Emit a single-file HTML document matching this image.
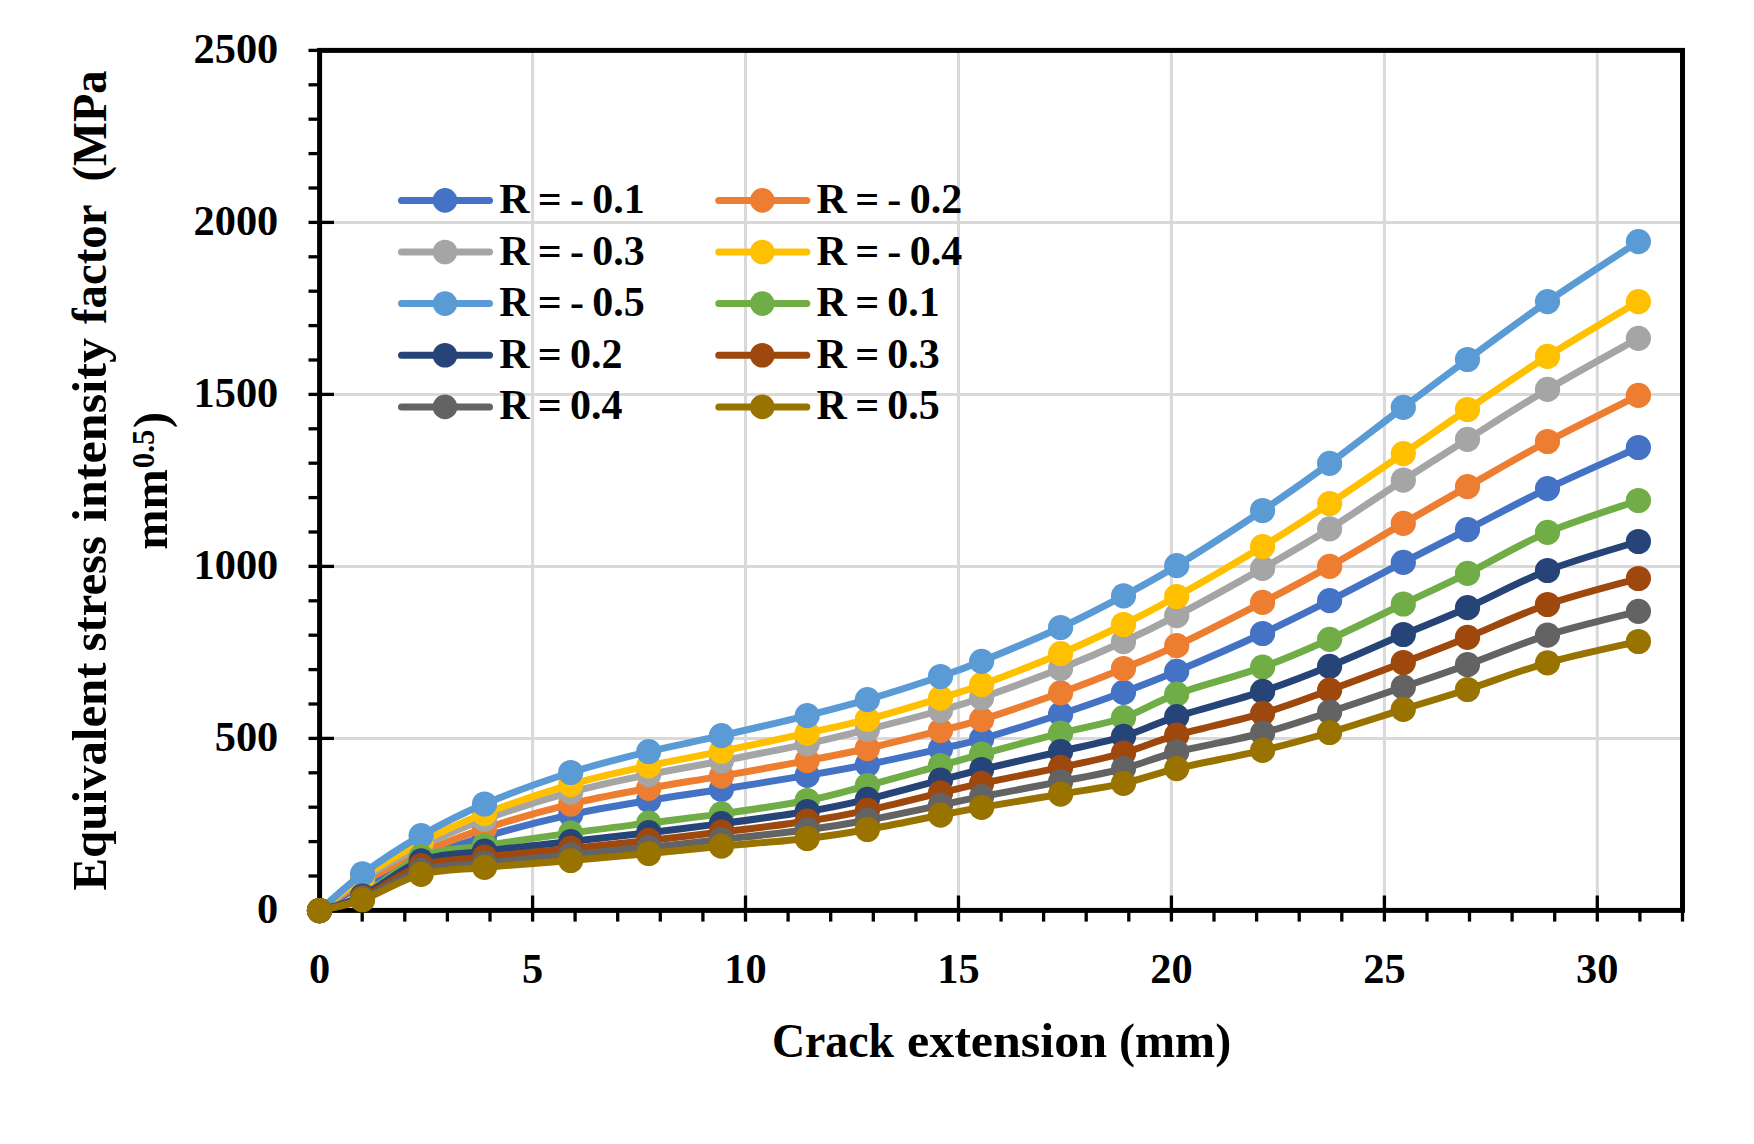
<!DOCTYPE html>
<html lang="en"><head><meta charset="utf-8"><title>Equivalent stress intensity factor vs crack extension</title>
<style>html,body{margin:0;padding:0;background:#fff}body{width:1754px;height:1144px;overflow:hidden}svg{display:block}text{font-family:"Liberation Serif","DejaVu Serif",serif;font-weight:bold;fill:#000}</style></head><body>
<svg width="1754" height="1144" viewBox="0 0 1754 1144">
<rect width="1754" height="1144" fill="#fff"/>
<g stroke="#D9D9D9" stroke-width="3.0" fill="none">
<line x1="319.6" y1="738.4" x2="1682.5" y2="738.4"/>
<line x1="319.6" y1="566.4" x2="1682.5" y2="566.4"/>
<line x1="319.6" y1="394.4" x2="1682.5" y2="394.4"/>
<line x1="319.6" y1="222.4" x2="1682.5" y2="222.4"/>
<line x1="532.6" y1="910.4" x2="532.6" y2="50.4"/>
<line x1="745.5" y1="910.4" x2="745.5" y2="50.4"/>
<line x1="958.5" y1="910.4" x2="958.5" y2="50.4"/>
<line x1="1171.4" y1="910.4" x2="1171.4" y2="50.4"/>
<line x1="1384.4" y1="910.4" x2="1384.4" y2="50.4"/>
<line x1="1597.3" y1="910.4" x2="1597.3" y2="50.4"/>
</g>
<g stroke="#000" stroke-width="3.3" fill="none">
<line x1="308.5" y1="910.4" x2="334" y2="910.4"/>
<line x1="308.5" y1="876.0" x2="319.6" y2="876.0"/>
<line x1="308.5" y1="841.6" x2="319.6" y2="841.6"/>
<line x1="308.5" y1="807.2" x2="319.6" y2="807.2"/>
<line x1="308.5" y1="772.8" x2="319.6" y2="772.8"/>
<line x1="308.5" y1="738.4" x2="334" y2="738.4"/>
<line x1="308.5" y1="704.0" x2="319.6" y2="704.0"/>
<line x1="308.5" y1="669.6" x2="319.6" y2="669.6"/>
<line x1="308.5" y1="635.2" x2="319.6" y2="635.2"/>
<line x1="308.5" y1="600.8" x2="319.6" y2="600.8"/>
<line x1="308.5" y1="566.4" x2="334" y2="566.4"/>
<line x1="308.5" y1="532.0" x2="319.6" y2="532.0"/>
<line x1="308.5" y1="497.6" x2="319.6" y2="497.6"/>
<line x1="308.5" y1="463.2" x2="319.6" y2="463.2"/>
<line x1="308.5" y1="428.8" x2="319.6" y2="428.8"/>
<line x1="308.5" y1="394.4" x2="334" y2="394.4"/>
<line x1="308.5" y1="360.0" x2="319.6" y2="360.0"/>
<line x1="308.5" y1="325.6" x2="319.6" y2="325.6"/>
<line x1="308.5" y1="291.2" x2="319.6" y2="291.2"/>
<line x1="308.5" y1="256.8" x2="319.6" y2="256.8"/>
<line x1="308.5" y1="222.4" x2="334" y2="222.4"/>
<line x1="308.5" y1="188.0" x2="319.6" y2="188.0"/>
<line x1="308.5" y1="153.6" x2="319.6" y2="153.6"/>
<line x1="308.5" y1="119.2" x2="319.6" y2="119.2"/>
<line x1="308.5" y1="84.8" x2="319.6" y2="84.8"/>
<line x1="308.5" y1="50.4" x2="334" y2="50.4"/>
<line x1="319.6" y1="895.5" x2="319.6" y2="921.6"/>
<line x1="362.2" y1="910.4" x2="362.2" y2="921.6"/>
<line x1="404.8" y1="910.4" x2="404.8" y2="921.6"/>
<line x1="447.4" y1="910.4" x2="447.4" y2="921.6"/>
<line x1="490.0" y1="910.4" x2="490.0" y2="921.6"/>
<line x1="532.6" y1="895.5" x2="532.6" y2="921.6"/>
<line x1="575.1" y1="910.4" x2="575.1" y2="921.6"/>
<line x1="617.7" y1="910.4" x2="617.7" y2="921.6"/>
<line x1="660.3" y1="910.4" x2="660.3" y2="921.6"/>
<line x1="702.9" y1="910.4" x2="702.9" y2="921.6"/>
<line x1="745.5" y1="895.5" x2="745.5" y2="921.6"/>
<line x1="788.1" y1="910.4" x2="788.1" y2="921.6"/>
<line x1="830.7" y1="910.4" x2="830.7" y2="921.6"/>
<line x1="873.3" y1="910.4" x2="873.3" y2="921.6"/>
<line x1="915.9" y1="910.4" x2="915.9" y2="921.6"/>
<line x1="958.5" y1="895.5" x2="958.5" y2="921.6"/>
<line x1="1001.1" y1="910.4" x2="1001.1" y2="921.6"/>
<line x1="1043.6" y1="910.4" x2="1043.6" y2="921.6"/>
<line x1="1086.2" y1="910.4" x2="1086.2" y2="921.6"/>
<line x1="1128.8" y1="910.4" x2="1128.8" y2="921.6"/>
<line x1="1171.4" y1="895.5" x2="1171.4" y2="921.6"/>
<line x1="1214.0" y1="910.4" x2="1214.0" y2="921.6"/>
<line x1="1256.6" y1="910.4" x2="1256.6" y2="921.6"/>
<line x1="1299.2" y1="910.4" x2="1299.2" y2="921.6"/>
<line x1="1341.8" y1="910.4" x2="1341.8" y2="921.6"/>
<line x1="1384.4" y1="895.5" x2="1384.4" y2="921.6"/>
<line x1="1427.0" y1="910.4" x2="1427.0" y2="921.6"/>
<line x1="1469.5" y1="910.4" x2="1469.5" y2="921.6"/>
<line x1="1512.1" y1="910.4" x2="1512.1" y2="921.6"/>
<line x1="1554.7" y1="910.4" x2="1554.7" y2="921.6"/>
<line x1="1597.3" y1="895.5" x2="1597.3" y2="921.6"/>
<line x1="1639.9" y1="910.4" x2="1639.9" y2="921.6"/>
<line x1="1682.5" y1="910.4" x2="1682.5" y2="921.6"/>
</g>
<rect x="319.6" y="50.4" width="1362.9" height="860.0" fill="none" stroke="#000" stroke-width="5.0"/>
<g fill="#4472C4" stroke="none"><path d="M319.5 910.6C326.7 906.4 345.6 893.8 362.5 885.1C379.4 876.4 400.8 866.7 421.1 858.6C441.4 850.5 459.6 844.0 484.5 836.7C509.4 829.4 543.3 820.7 570.7 814.6C598.1 808.5 623.6 804.6 648.7 800.4C673.8 796.2 695.0 793.5 721.4 789.3C747.8 785.1 782.9 779.5 807.2 775.4C831.5 771.3 845.2 768.9 867.4 764.5C889.6 760.1 921.5 753.0 940.5 748.8C959.5 744.5 961.6 744.8 981.6 739.0C1001.6 733.2 1036.9 722.0 1060.6 714.2C1084.2 706.4 1104.2 699.4 1123.5 692.3C1142.8 685.1 1153.5 681.1 1176.7 671.3C1199.9 661.5 1237.1 645.3 1262.6 633.5C1288.1 621.7 1306.1 612.5 1329.6 600.6C1353.0 588.8 1380.3 574.2 1403.3 562.4C1426.3 550.6 1443.5 541.9 1467.5 529.6C1491.5 517.3 1519.0 502.3 1547.5 488.6C1576.0 474.9 1623.2 454.4 1638.4 447.5" fill="none" stroke="#4472C4" stroke-width="7.0" stroke-linejoin="round" stroke-linecap="round"/>
<circle cx="319.5" cy="910.6" r="12.6"/>
<circle cx="362.5" cy="885.1" r="12.6"/>
<circle cx="421.1" cy="858.6" r="12.6"/>
<circle cx="484.5" cy="836.7" r="12.6"/>
<circle cx="570.7" cy="814.6" r="12.6"/>
<circle cx="648.7" cy="800.4" r="12.6"/>
<circle cx="721.4" cy="789.3" r="12.6"/>
<circle cx="807.2" cy="775.4" r="12.6"/>
<circle cx="867.4" cy="764.5" r="12.6"/>
<circle cx="940.5" cy="748.8" r="12.6"/>
<circle cx="981.6" cy="739.0" r="12.6"/>
<circle cx="1060.6" cy="714.2" r="12.6"/>
<circle cx="1123.5" cy="692.3" r="12.6"/>
<circle cx="1176.7" cy="671.3" r="12.6"/>
<circle cx="1262.6" cy="633.5" r="12.6"/>
<circle cx="1329.6" cy="600.6" r="12.6"/>
<circle cx="1403.3" cy="562.4" r="12.6"/>
<circle cx="1467.5" cy="529.6" r="12.6"/>
<circle cx="1547.5" cy="488.6" r="12.6"/>
<circle cx="1638.4" cy="447.5" r="12.6"/>
</g>
<g fill="#ED7D31" stroke="none"><path d="M319.5 910.6C326.7 905.9 345.6 891.9 362.5 882.3C379.4 872.7 400.8 861.8 421.1 852.9C441.4 844.0 459.6 836.7 484.5 828.6C509.4 820.5 543.3 810.8 570.7 804.1C598.1 797.4 623.6 793.0 648.7 788.3C673.8 783.6 695.0 780.7 721.4 776.1C747.8 771.5 782.9 765.2 807.2 760.6C831.5 756.0 845.2 753.5 867.4 748.5C889.6 743.5 921.5 735.4 940.5 730.6C959.5 725.8 961.6 726.0 981.6 719.7C1001.6 713.4 1036.9 701.3 1060.6 692.8C1084.2 684.3 1104.2 676.4 1123.5 668.5C1142.8 660.6 1153.5 656.7 1176.7 645.7C1199.9 634.7 1237.1 615.6 1262.6 602.4C1288.1 589.2 1306.1 579.6 1329.6 566.4C1353.0 553.2 1380.3 536.7 1403.3 523.4C1426.3 510.1 1443.5 500.2 1467.5 486.6C1491.5 473.0 1519.0 456.7 1547.5 441.5C1576.0 426.3 1623.2 403.1 1638.4 395.4" fill="none" stroke="#ED7D31" stroke-width="7.0" stroke-linejoin="round" stroke-linecap="round"/>
<circle cx="319.5" cy="910.6" r="12.6"/>
<circle cx="362.5" cy="882.3" r="12.6"/>
<circle cx="421.1" cy="852.9" r="12.6"/>
<circle cx="484.5" cy="828.6" r="12.6"/>
<circle cx="570.7" cy="804.1" r="12.6"/>
<circle cx="648.7" cy="788.3" r="12.6"/>
<circle cx="721.4" cy="776.1" r="12.6"/>
<circle cx="807.2" cy="760.6" r="12.6"/>
<circle cx="867.4" cy="748.5" r="12.6"/>
<circle cx="940.5" cy="730.6" r="12.6"/>
<circle cx="981.6" cy="719.7" r="12.6"/>
<circle cx="1060.6" cy="692.8" r="12.6"/>
<circle cx="1123.5" cy="668.5" r="12.6"/>
<circle cx="1176.7" cy="645.7" r="12.6"/>
<circle cx="1262.6" cy="602.4" r="12.6"/>
<circle cx="1329.6" cy="566.4" r="12.6"/>
<circle cx="1403.3" cy="523.4" r="12.6"/>
<circle cx="1467.5" cy="486.6" r="12.6"/>
<circle cx="1547.5" cy="441.5" r="12.6"/>
<circle cx="1638.4" cy="395.4" r="12.6"/>
</g>
<g fill="#A5A5A5" stroke="none"><path d="M319.5 910.6C326.7 905.4 345.6 889.9 362.5 879.2C379.4 868.5 400.8 856.4 421.1 846.4C441.4 836.4 459.6 828.4 484.5 819.4C509.4 810.4 543.3 799.7 570.7 792.2C598.1 784.7 623.6 779.8 648.7 774.6C673.8 769.4 695.0 766.1 721.4 761.0C747.8 755.9 782.9 749.0 807.2 743.8C831.5 738.5 845.2 735.0 867.4 729.5C889.6 724.0 921.5 715.8 940.5 710.5C959.5 705.2 961.6 704.8 981.6 697.8C1001.6 690.8 1036.9 678.0 1060.6 668.6C1084.2 659.2 1104.2 650.5 1123.5 641.7C1142.8 632.9 1153.5 627.8 1176.7 615.6C1199.9 603.4 1237.1 582.9 1262.6 568.4C1288.1 553.9 1306.1 543.5 1329.6 528.8C1353.0 514.1 1380.3 495.1 1403.3 480.2C1426.3 465.3 1443.5 454.4 1467.5 439.3C1491.5 424.2 1519.0 406.2 1547.5 389.4C1576.0 372.6 1623.2 346.8 1638.4 338.3" fill="none" stroke="#A5A5A5" stroke-width="7.0" stroke-linejoin="round" stroke-linecap="round"/>
<circle cx="319.5" cy="910.6" r="12.6"/>
<circle cx="362.5" cy="879.2" r="12.6"/>
<circle cx="421.1" cy="846.4" r="12.6"/>
<circle cx="484.5" cy="819.4" r="12.6"/>
<circle cx="570.7" cy="792.2" r="12.6"/>
<circle cx="648.7" cy="774.6" r="12.6"/>
<circle cx="721.4" cy="761.0" r="12.6"/>
<circle cx="807.2" cy="743.8" r="12.6"/>
<circle cx="867.4" cy="729.5" r="12.6"/>
<circle cx="940.5" cy="710.5" r="12.6"/>
<circle cx="981.6" cy="697.8" r="12.6"/>
<circle cx="1060.6" cy="668.6" r="12.6"/>
<circle cx="1123.5" cy="641.7" r="12.6"/>
<circle cx="1176.7" cy="615.6" r="12.6"/>
<circle cx="1262.6" cy="568.4" r="12.6"/>
<circle cx="1329.6" cy="528.8" r="12.6"/>
<circle cx="1403.3" cy="480.2" r="12.6"/>
<circle cx="1467.5" cy="439.3" r="12.6"/>
<circle cx="1547.5" cy="389.4" r="12.6"/>
<circle cx="1638.4" cy="338.3" r="12.6"/>
</g>
<g fill="#FFC000" stroke="none"><path d="M319.5 910.6C326.7 905.0 345.6 888.6 362.5 877.2C379.4 865.8 400.8 852.9 421.1 842.3C441.4 831.7 459.6 823.2 484.5 813.6C509.4 804.0 543.3 792.6 570.7 784.6C598.1 776.6 623.6 771.4 648.7 765.9C673.8 760.4 695.0 756.9 721.4 751.4C747.8 745.9 782.9 738.4 807.2 733.1C831.5 727.8 845.2 725.2 867.4 719.4C889.6 713.6 921.5 703.9 940.5 698.1C959.5 692.3 961.6 692.1 981.6 684.7C1001.6 677.3 1036.9 663.7 1060.6 653.7C1084.2 643.7 1104.2 634.0 1123.5 624.5C1142.8 615.0 1153.5 609.5 1176.7 596.5C1199.9 583.5 1237.1 562.0 1262.6 546.5C1288.1 531.0 1306.1 519.1 1329.6 503.6C1353.0 488.1 1380.3 469.3 1403.3 453.6C1426.3 437.9 1443.5 425.7 1467.5 409.5C1491.5 393.3 1519.0 374.3 1547.5 356.3C1576.0 338.3 1623.2 310.7 1638.4 301.6" fill="none" stroke="#FFC000" stroke-width="7.0" stroke-linejoin="round" stroke-linecap="round"/>
<circle cx="319.5" cy="910.6" r="12.6"/>
<circle cx="362.5" cy="877.2" r="12.6"/>
<circle cx="421.1" cy="842.3" r="12.6"/>
<circle cx="484.5" cy="813.6" r="12.6"/>
<circle cx="570.7" cy="784.6" r="12.6"/>
<circle cx="648.7" cy="765.9" r="12.6"/>
<circle cx="721.4" cy="751.4" r="12.6"/>
<circle cx="807.2" cy="733.1" r="12.6"/>
<circle cx="867.4" cy="719.4" r="12.6"/>
<circle cx="940.5" cy="698.1" r="12.6"/>
<circle cx="981.6" cy="684.7" r="12.6"/>
<circle cx="1060.6" cy="653.7" r="12.6"/>
<circle cx="1123.5" cy="624.5" r="12.6"/>
<circle cx="1176.7" cy="596.5" r="12.6"/>
<circle cx="1262.6" cy="546.5" r="12.6"/>
<circle cx="1329.6" cy="503.6" r="12.6"/>
<circle cx="1403.3" cy="453.6" r="12.6"/>
<circle cx="1467.5" cy="409.5" r="12.6"/>
<circle cx="1547.5" cy="356.3" r="12.6"/>
<circle cx="1638.4" cy="301.6" r="12.6"/>
</g>
<g fill="#5B9BD5" stroke="none"><path d="M319.5 910.6C326.7 904.5 345.6 886.4 362.5 873.9C379.4 861.4 400.8 847.2 421.1 835.6C441.4 824.0 459.6 814.5 484.5 804.0C509.4 793.5 543.3 781.2 570.7 772.5C598.1 763.8 623.6 757.7 648.7 751.6C673.8 745.5 695.0 741.7 721.4 735.7C747.8 729.7 782.9 721.6 807.2 715.6C831.5 709.6 845.2 706.2 867.4 699.7C889.6 693.2 921.5 682.9 940.5 676.5C959.5 670.1 961.6 669.5 981.6 661.3C1001.6 653.1 1036.9 638.4 1060.6 627.5C1084.2 616.6 1104.2 606.1 1123.5 595.8C1142.8 585.5 1153.5 579.9 1176.7 565.7C1199.9 551.5 1237.1 527.5 1262.6 510.5C1288.1 493.4 1306.1 480.6 1329.6 463.4C1353.0 446.2 1380.3 424.7 1403.3 407.4C1426.3 390.1 1443.5 377.1 1467.5 359.5C1491.5 341.9 1519.0 321.2 1547.5 301.6C1576.0 282.0 1623.2 251.6 1638.4 241.6" fill="none" stroke="#5B9BD5" stroke-width="7.0" stroke-linejoin="round" stroke-linecap="round"/>
<circle cx="319.5" cy="910.6" r="12.6"/>
<circle cx="362.5" cy="873.9" r="12.6"/>
<circle cx="421.1" cy="835.6" r="12.6"/>
<circle cx="484.5" cy="804.0" r="12.6"/>
<circle cx="570.7" cy="772.5" r="12.6"/>
<circle cx="648.7" cy="751.6" r="12.6"/>
<circle cx="721.4" cy="735.7" r="12.6"/>
<circle cx="807.2" cy="715.6" r="12.6"/>
<circle cx="867.4" cy="699.7" r="12.6"/>
<circle cx="940.5" cy="676.5" r="12.6"/>
<circle cx="981.6" cy="661.3" r="12.6"/>
<circle cx="1060.6" cy="627.5" r="12.6"/>
<circle cx="1123.5" cy="595.8" r="12.6"/>
<circle cx="1176.7" cy="565.7" r="12.6"/>
<circle cx="1262.6" cy="510.5" r="12.6"/>
<circle cx="1329.6" cy="463.4" r="12.6"/>
<circle cx="1403.3" cy="407.4" r="12.6"/>
<circle cx="1467.5" cy="359.5" r="12.6"/>
<circle cx="1547.5" cy="301.6" r="12.6"/>
<circle cx="1638.4" cy="241.6" r="12.6"/>
</g>
<g fill="#70AD47" stroke="none"><path d="M319.5 910.6C326.7 908.1 345.6 904.5 362.5 895.5C379.4 886.5 400.8 864.9 421.1 856.6C441.4 848.3 459.6 849.5 484.5 845.6C509.4 841.7 543.3 836.9 570.7 833.1C598.1 829.3 623.6 826.2 648.7 823.0C673.8 819.8 695.0 817.6 721.4 813.9C747.8 810.1 782.9 805.2 807.2 800.5C831.5 795.8 845.2 791.3 867.4 785.5C889.6 779.7 921.5 770.7 940.5 765.5C959.5 760.3 961.6 759.6 981.6 754.2C1001.6 748.8 1036.9 739.3 1060.6 733.2C1084.2 727.1 1104.2 724.2 1123.5 717.7C1142.8 711.2 1153.5 702.5 1176.7 694.1C1199.9 685.7 1237.1 676.2 1262.6 667.1C1288.1 658.0 1306.1 649.8 1329.6 639.3C1353.0 628.8 1380.3 615.0 1403.3 604.0C1426.3 593.0 1443.5 585.3 1467.5 573.4C1491.5 561.5 1519.0 544.5 1547.5 532.4C1576.0 520.2 1623.2 505.8 1638.4 500.5" fill="none" stroke="#70AD47" stroke-width="7.0" stroke-linejoin="round" stroke-linecap="round"/>
<circle cx="319.5" cy="910.6" r="12.6"/>
<circle cx="362.5" cy="895.5" r="12.6"/>
<circle cx="421.1" cy="856.6" r="12.6"/>
<circle cx="484.5" cy="845.6" r="12.6"/>
<circle cx="570.7" cy="833.1" r="12.6"/>
<circle cx="648.7" cy="823.0" r="12.6"/>
<circle cx="721.4" cy="813.9" r="12.6"/>
<circle cx="807.2" cy="800.5" r="12.6"/>
<circle cx="867.4" cy="785.5" r="12.6"/>
<circle cx="940.5" cy="765.5" r="12.6"/>
<circle cx="981.6" cy="754.2" r="12.6"/>
<circle cx="1060.6" cy="733.2" r="12.6"/>
<circle cx="1123.5" cy="717.7" r="12.6"/>
<circle cx="1176.7" cy="694.1" r="12.6"/>
<circle cx="1262.6" cy="667.1" r="12.6"/>
<circle cx="1329.6" cy="639.3" r="12.6"/>
<circle cx="1403.3" cy="604.0" r="12.6"/>
<circle cx="1467.5" cy="573.4" r="12.6"/>
<circle cx="1547.5" cy="532.4" r="12.6"/>
<circle cx="1638.4" cy="500.5" r="12.6"/>
</g>
<g fill="#264478" stroke="none"><path d="M319.5 910.6C326.7 908.2 345.6 904.3 362.5 896.0C379.4 887.7 400.8 868.3 421.1 860.8C441.4 853.3 459.6 854.3 484.5 851.1C509.4 847.9 543.3 844.7 570.7 841.6C598.1 838.5 623.6 835.7 648.7 832.7C673.8 829.7 695.0 827.1 721.4 823.6C747.8 820.1 782.9 815.5 807.2 811.5C831.5 807.5 845.2 804.5 867.4 799.3C889.6 794.1 921.5 785.1 940.5 780.1C959.5 775.1 961.6 774.3 981.6 769.5C1001.6 764.7 1036.9 757.0 1060.6 751.5C1084.2 746.0 1104.2 742.2 1123.5 736.4C1142.8 730.6 1153.5 724.1 1176.7 716.6C1199.9 709.1 1237.1 699.8 1262.6 691.4C1288.1 683.0 1306.1 675.8 1329.6 666.3C1353.0 656.8 1380.3 644.3 1403.3 634.5C1426.3 624.7 1443.5 618.4 1467.5 607.7C1491.5 597.0 1519.0 581.5 1547.5 570.5C1576.0 559.5 1623.2 546.3 1638.4 541.5" fill="none" stroke="#264478" stroke-width="7.0" stroke-linejoin="round" stroke-linecap="round"/>
<circle cx="319.5" cy="910.6" r="12.6"/>
<circle cx="362.5" cy="896.0" r="12.6"/>
<circle cx="421.1" cy="860.8" r="12.6"/>
<circle cx="484.5" cy="851.1" r="12.6"/>
<circle cx="570.7" cy="841.6" r="12.6"/>
<circle cx="648.7" cy="832.7" r="12.6"/>
<circle cx="721.4" cy="823.6" r="12.6"/>
<circle cx="807.2" cy="811.5" r="12.6"/>
<circle cx="867.4" cy="799.3" r="12.6"/>
<circle cx="940.5" cy="780.1" r="12.6"/>
<circle cx="981.6" cy="769.5" r="12.6"/>
<circle cx="1060.6" cy="751.5" r="12.6"/>
<circle cx="1123.5" cy="736.4" r="12.6"/>
<circle cx="1176.7" cy="716.6" r="12.6"/>
<circle cx="1262.6" cy="691.4" r="12.6"/>
<circle cx="1329.6" cy="666.3" r="12.6"/>
<circle cx="1403.3" cy="634.5" r="12.6"/>
<circle cx="1467.5" cy="607.7" r="12.6"/>
<circle cx="1547.5" cy="570.5" r="12.6"/>
<circle cx="1638.4" cy="541.5" r="12.6"/>
</g>
<g fill="#9E480E" stroke="none"><path d="M319.5 910.6C326.7 908.4 345.6 904.9 362.5 897.4C379.4 889.9 400.8 872.2 421.1 865.5C441.4 858.8 459.6 860.0 484.5 857.1C509.4 854.2 543.3 851.2 570.7 848.4C598.1 845.6 623.6 843.1 648.7 840.4C673.8 837.7 695.0 835.3 721.4 832.1C747.8 828.9 782.9 824.8 807.2 821.2C831.5 817.6 845.2 815.0 867.4 810.3C889.6 805.6 921.5 797.4 940.5 792.9C959.5 788.4 961.6 787.6 981.6 783.4C1001.6 779.1 1036.9 772.5 1060.6 767.4C1084.2 762.3 1104.2 758.4 1123.5 753.0C1142.8 747.6 1153.5 741.8 1176.7 735.2C1199.9 728.6 1237.1 720.8 1262.6 713.3C1288.1 705.8 1306.1 698.6 1329.6 690.1C1353.0 681.6 1380.3 671.3 1403.3 662.5C1426.3 653.7 1443.5 647.1 1467.5 637.4C1491.5 627.7 1519.0 614.3 1547.5 604.5C1576.0 594.7 1623.2 582.8 1638.4 578.5" fill="none" stroke="#9E480E" stroke-width="7.0" stroke-linejoin="round" stroke-linecap="round"/>
<circle cx="319.5" cy="910.6" r="12.6"/>
<circle cx="362.5" cy="897.4" r="12.6"/>
<circle cx="421.1" cy="865.5" r="12.6"/>
<circle cx="484.5" cy="857.1" r="12.6"/>
<circle cx="570.7" cy="848.4" r="12.6"/>
<circle cx="648.7" cy="840.4" r="12.6"/>
<circle cx="721.4" cy="832.1" r="12.6"/>
<circle cx="807.2" cy="821.2" r="12.6"/>
<circle cx="867.4" cy="810.3" r="12.6"/>
<circle cx="940.5" cy="792.9" r="12.6"/>
<circle cx="981.6" cy="783.4" r="12.6"/>
<circle cx="1060.6" cy="767.4" r="12.6"/>
<circle cx="1123.5" cy="753.0" r="12.6"/>
<circle cx="1176.7" cy="735.2" r="12.6"/>
<circle cx="1262.6" cy="713.3" r="12.6"/>
<circle cx="1329.6" cy="690.1" r="12.6"/>
<circle cx="1403.3" cy="662.5" r="12.6"/>
<circle cx="1467.5" cy="637.4" r="12.6"/>
<circle cx="1547.5" cy="604.5" r="12.6"/>
<circle cx="1638.4" cy="578.5" r="12.6"/>
</g>
<g fill="#636363" stroke="none"><path d="M319.5 910.6C326.7 908.6 345.6 905.4 362.5 898.7C379.4 892.0 400.8 876.2 421.1 870.3C441.4 864.3 459.6 865.6 484.5 863.0C509.4 860.4 543.3 857.3 570.7 854.7C598.1 852.1 623.6 849.8 648.7 847.3C673.8 844.8 695.0 842.4 721.4 839.5C747.8 836.6 782.9 833.0 807.2 829.8C831.5 826.6 845.2 824.4 867.4 820.3C889.6 816.2 921.5 809.2 940.5 805.2C959.5 801.2 961.6 800.5 981.6 796.6C1001.6 792.7 1036.9 786.3 1060.6 781.6C1084.2 776.9 1104.2 773.5 1123.5 768.6C1142.8 763.7 1153.5 757.9 1176.7 752.0C1199.9 746.1 1237.1 739.7 1262.6 733.0C1288.1 726.3 1306.1 719.7 1329.6 712.0C1353.0 704.3 1380.3 694.9 1403.3 687.0C1426.3 679.1 1443.5 673.4 1467.5 664.7C1491.5 656.1 1519.0 644.0 1547.5 635.1C1576.0 626.2 1623.2 615.3 1638.4 611.3" fill="none" stroke="#636363" stroke-width="7.0" stroke-linejoin="round" stroke-linecap="round"/>
<circle cx="319.5" cy="910.6" r="12.6"/>
<circle cx="362.5" cy="898.7" r="12.6"/>
<circle cx="421.1" cy="870.3" r="12.6"/>
<circle cx="484.5" cy="863.0" r="12.6"/>
<circle cx="570.7" cy="854.7" r="12.6"/>
<circle cx="648.7" cy="847.3" r="12.6"/>
<circle cx="721.4" cy="839.5" r="12.6"/>
<circle cx="807.2" cy="829.8" r="12.6"/>
<circle cx="867.4" cy="820.3" r="12.6"/>
<circle cx="940.5" cy="805.2" r="12.6"/>
<circle cx="981.6" cy="796.6" r="12.6"/>
<circle cx="1060.6" cy="781.6" r="12.6"/>
<circle cx="1123.5" cy="768.6" r="12.6"/>
<circle cx="1176.7" cy="752.0" r="12.6"/>
<circle cx="1262.6" cy="733.0" r="12.6"/>
<circle cx="1329.6" cy="712.0" r="12.6"/>
<circle cx="1403.3" cy="687.0" r="12.6"/>
<circle cx="1467.5" cy="664.7" r="12.6"/>
<circle cx="1547.5" cy="635.1" r="12.6"/>
<circle cx="1638.4" cy="611.3" r="12.6"/>
</g>
<g fill="#997300" stroke="none"><path d="M319.5 910.6C326.7 908.8 345.6 906.0 362.5 899.9C379.4 893.8 400.8 879.7 421.1 874.3C441.4 868.9 459.6 869.7 484.5 867.4C509.4 865.1 543.3 862.8 570.7 860.5C598.1 858.2 623.6 855.9 648.7 853.5C673.8 851.1 695.0 848.7 721.4 846.2C747.8 843.7 782.9 841.3 807.2 838.5C831.5 835.7 845.2 833.4 867.4 829.5C889.6 825.6 921.5 818.9 940.5 815.2C959.5 811.5 961.6 810.9 981.6 807.4C1001.6 803.9 1036.9 798.2 1060.6 794.2C1084.2 790.2 1104.2 787.7 1123.5 783.4C1142.8 779.1 1153.5 774.1 1176.7 768.6C1199.9 763.1 1237.1 756.4 1262.6 750.4C1288.1 744.4 1306.1 739.4 1329.6 732.5C1353.0 725.6 1380.3 716.5 1403.3 709.3C1426.3 702.1 1443.5 697.2 1467.5 689.5C1491.5 681.8 1519.0 670.8 1547.5 662.8C1576.0 654.8 1623.2 645.0 1638.4 641.5" fill="none" stroke="#997300" stroke-width="7.0" stroke-linejoin="round" stroke-linecap="round"/>
<circle cx="319.5" cy="910.6" r="12.6"/>
<circle cx="362.5" cy="899.9" r="12.6"/>
<circle cx="421.1" cy="874.3" r="12.6"/>
<circle cx="484.5" cy="867.4" r="12.6"/>
<circle cx="570.7" cy="860.5" r="12.6"/>
<circle cx="648.7" cy="853.5" r="12.6"/>
<circle cx="721.4" cy="846.2" r="12.6"/>
<circle cx="807.2" cy="838.5" r="12.6"/>
<circle cx="867.4" cy="829.5" r="12.6"/>
<circle cx="940.5" cy="815.2" r="12.6"/>
<circle cx="981.6" cy="807.4" r="12.6"/>
<circle cx="1060.6" cy="794.2" r="12.6"/>
<circle cx="1123.5" cy="783.4" r="12.6"/>
<circle cx="1176.7" cy="768.6" r="12.6"/>
<circle cx="1262.6" cy="750.4" r="12.6"/>
<circle cx="1329.6" cy="732.5" r="12.6"/>
<circle cx="1403.3" cy="709.3" r="12.6"/>
<circle cx="1467.5" cy="689.5" r="12.6"/>
<circle cx="1547.5" cy="662.8" r="12.6"/>
<circle cx="1638.4" cy="641.5" r="12.6"/>
</g>
<line x1="401.5" y1="200.4" x2="489.5" y2="200.4" stroke="#4472C4" stroke-width="7.0" stroke-linecap="round"/>
<circle cx="445.0" cy="200.4" r="12.3" fill="#4472C4"/>
<text x="499.2" y="212.9" font-size="42.0" word-spacing="-2.2" xml:space="preserve">R = - 0.1</text>
<line x1="718.8" y1="200.4" x2="806.8" y2="200.4" stroke="#ED7D31" stroke-width="7.0" stroke-linecap="round"/>
<circle cx="762.3" cy="200.4" r="12.3" fill="#ED7D31"/>
<text x="816.5" y="212.9" font-size="42.0" word-spacing="-2.2" xml:space="preserve">R = - 0.2</text>
<line x1="401.5" y1="252.0" x2="489.5" y2="252.0" stroke="#A5A5A5" stroke-width="7.0" stroke-linecap="round"/>
<circle cx="445.0" cy="252.0" r="12.3" fill="#A5A5A5"/>
<text x="499.2" y="264.5" font-size="42.0" word-spacing="-2.2" xml:space="preserve">R = - 0.3</text>
<line x1="718.8" y1="252.0" x2="806.8" y2="252.0" stroke="#FFC000" stroke-width="7.0" stroke-linecap="round"/>
<circle cx="762.3" cy="252.0" r="12.3" fill="#FFC000"/>
<text x="816.5" y="264.5" font-size="42.0" word-spacing="-2.2" xml:space="preserve">R = - 0.4</text>
<line x1="401.5" y1="303.6" x2="489.5" y2="303.6" stroke="#5B9BD5" stroke-width="7.0" stroke-linecap="round"/>
<circle cx="445.0" cy="303.6" r="12.3" fill="#5B9BD5"/>
<text x="499.2" y="316.1" font-size="42.0" word-spacing="-2.2" xml:space="preserve">R = - 0.5</text>
<line x1="718.8" y1="303.6" x2="806.8" y2="303.6" stroke="#70AD47" stroke-width="7.0" stroke-linecap="round"/>
<circle cx="762.3" cy="303.6" r="12.3" fill="#70AD47"/>
<text x="816.5" y="316.1" font-size="42.0" word-spacing="-2.2" xml:space="preserve">R = 0.1</text>
<line x1="401.5" y1="355.3" x2="489.5" y2="355.3" stroke="#264478" stroke-width="7.0" stroke-linecap="round"/>
<circle cx="445.0" cy="355.3" r="12.3" fill="#264478"/>
<text x="499.2" y="367.8" font-size="42.0" word-spacing="-2.2" xml:space="preserve">R = 0.2</text>
<line x1="718.8" y1="355.3" x2="806.8" y2="355.3" stroke="#9E480E" stroke-width="7.0" stroke-linecap="round"/>
<circle cx="762.3" cy="355.3" r="12.3" fill="#9E480E"/>
<text x="816.5" y="367.8" font-size="42.0" word-spacing="-2.2" xml:space="preserve">R = 0.3</text>
<line x1="401.5" y1="406.9" x2="489.5" y2="406.9" stroke="#636363" stroke-width="7.0" stroke-linecap="round"/>
<circle cx="445.0" cy="406.9" r="12.3" fill="#636363"/>
<text x="499.2" y="419.4" font-size="42.0" word-spacing="-2.2" xml:space="preserve">R = 0.4</text>
<line x1="718.8" y1="406.9" x2="806.8" y2="406.9" stroke="#997300" stroke-width="7.0" stroke-linecap="round"/>
<circle cx="762.3" cy="406.9" r="12.3" fill="#997300"/>
<text x="816.5" y="419.4" font-size="42.0" word-spacing="-2.2" xml:space="preserve">R = 0.5</text>
<text x="278.3" y="923.0" font-size="42.4" text-anchor="end">0</text>
<text x="278.3" y="751.0" font-size="42.4" text-anchor="end">500</text>
<text x="278.3" y="579.0" font-size="42.4" text-anchor="end">1000</text>
<text x="278.3" y="407.0" font-size="42.4" text-anchor="end">1500</text>
<text x="278.3" y="235.0" font-size="42.4" text-anchor="end">2000</text>
<text x="278.3" y="63.0" font-size="42.4" text-anchor="end">2500</text>
<text x="319.6" y="983.2" font-size="42.4" text-anchor="middle">0</text>
<text x="532.6" y="983.2" font-size="42.4" text-anchor="middle">5</text>
<text x="745.5" y="983.2" font-size="42.4" text-anchor="middle">10</text>
<text x="958.5" y="983.2" font-size="42.4" text-anchor="middle">15</text>
<text x="1171.4" y="983.2" font-size="42.4" text-anchor="middle">20</text>
<text x="1384.4" y="983.2" font-size="42.4" text-anchor="middle">25</text>
<text x="1597.3" y="983.2" font-size="42.4" text-anchor="middle">30</text>
<g font-size="48.4">
<text x="772.00" y="1056.8" textLength="122.03" lengthAdjust="spacingAndGlyphs">Crack</text>
<text x="907.00" y="1056.8" textLength="200.02" lengthAdjust="spacingAndGlyphs">extension</text>
<text x="1119.00" y="1056.8" textLength="112.16" lengthAdjust="spacingAndGlyphs">(mm)</text>
<text transform="translate(105.8,890.50) rotate(-90)" textLength="228.01" lengthAdjust="spacingAndGlyphs">Equivalent</text>
<text transform="translate(105.8,651.50) rotate(-90)" textLength="115.57" lengthAdjust="spacingAndGlyphs">stress</text>
<text transform="translate(105.8,522.00) rotate(-90)" textLength="184.01" lengthAdjust="spacingAndGlyphs">intensity</text>
<text transform="translate(105.8,324.00) rotate(-90)" textLength="119.52" lengthAdjust="spacingAndGlyphs">factor</text>
<text transform="translate(105.8,181.50) rotate(-90)" textLength="111.06" lengthAdjust="spacingAndGlyphs">(MPa</text>
</g>
<text transform="translate(167.1,480.8) rotate(-90)" font-size="48.4" text-anchor="middle">mm<tspan font-size="31" dy="-13.1" dx="1">0.5</tspan><tspan dy="13.1" dx="1.5">)</tspan></text>
</svg></body></html>
